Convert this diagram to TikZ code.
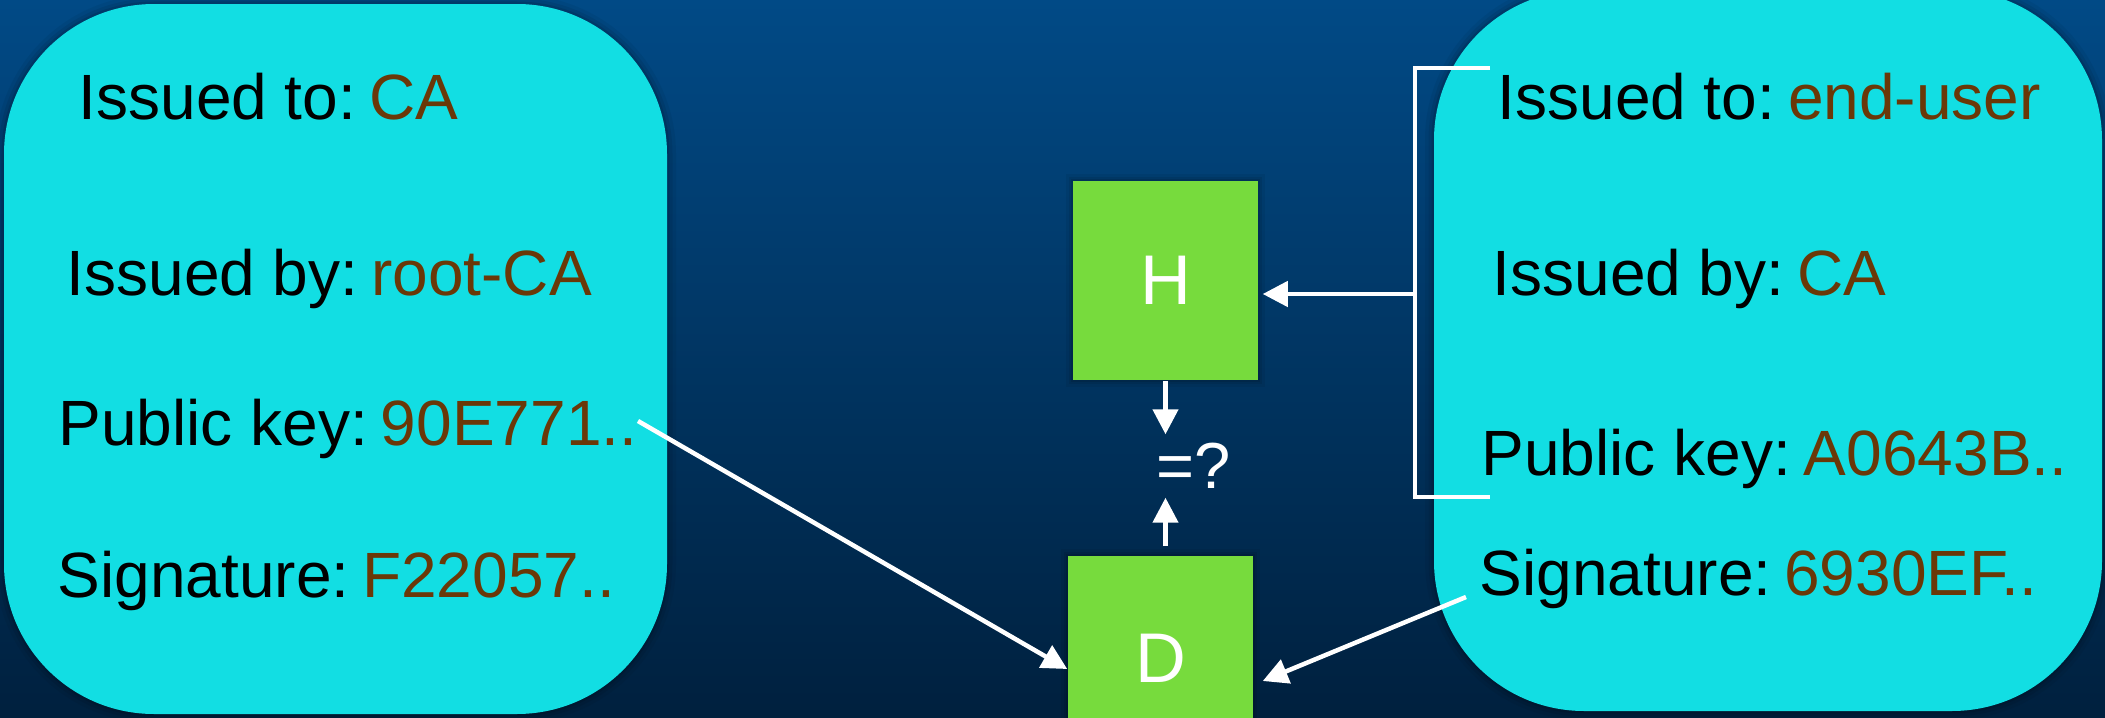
\documentclass[tikz,border=0pt]{standalone}
\usepackage{fontspec}
\setmainfont{Liberation Sans}
\usetikzlibrary{arrows.meta,calc}
\definecolor{bgtop}{RGB}{1,74,134}
\definecolor{bgbot}{RGB}{0,32,62}
\definecolor{cardc}{RGB}{18,222,227}
\definecolor{boxg}{RGB}{119,219,61}
\definecolor{valc}{RGB}{106,56,8}
\tikzset{
  card/.style={fill=cardc, rounded corners=1.5cm},
  row/.style={anchor=base west, inner sep=0, font=\fontsize{18.2}{20}\selectfont, text=black},
  gbox/.style={fill=boxg, minimum width=1.85cm, inner sep=0, text=white, font=\fontsize{20}{24}\selectfont},
  wline/.style={draw=white, line width=0.045cm},
  arr/.style={wline, -{Triangle[length=0.25cm,width=0.25cm]}},
}
\newcommand{\val}[1]{\hspace{0.2em}\textcolor{valc}{#1}}
\begin{document}
\begin{tikzpicture}[x=0.01cm,y=-0.01cm]
\useasboundingbox (0,0) rectangle (2105,718);
\clip (0,0) rectangle (2105,718);
\shade[top color=bgtop, bottom color=bgbot] (0,0) rectangle (2105,718);
% card shadows
\foreach \w/\o in {0.18cm/0.05, 0.11cm/0.07, 0.05cm/0.10}{
  \draw[black, opacity=\o, line width=\w, rounded corners=1.5cm] (4,4) rectangle (667,714);
  \draw[black, opacity=\o, line width=\w, rounded corners=1.5cm] (1434,-10) rectangle (2102,711);
}
\fill[card] (4,4) rectangle (667,714);
\fill[card] (1434,-10) rectangle (2102,711);
% rows
\node[row] (l1) at (78,119) {Issued to:\val{CA}};
\node[row] (l2) at (66,295) {Issued by:\val{root-CA}};
\node[row] (l3) at (58,445) {Public key:\val{90E771..}};
\node[row] (l4) at (57,597) {Signature:\val{F22057..}};
\node[row] (r1) at (1497,119) {Issued to:\val{end-user}};
\node[row] (r2) at (1492,295) {Issued by:\val{CA}};
\node[row] (r3) at (1481,475) {Public key:\val{A0643B..}};
\node[row] (r4) at (1479,595) {Signature:\val{6930EF..}};
% box shadows
\foreach \w/\o in {0.14cm/0.06, 0.08cm/0.08, 0.04cm/0.10}{
  \draw[black, opacity=\o, line width=\w] (1073,181) rectangle (1258,380);
  \draw[black, opacity=\o, line width=\w] (1068,556) rectangle (1253,760);
}
\node[gbox, minimum height=1.99cm] (H) at (1165.5,280.5) {H};
\node[gbox, minimum height=2.04cm] (D) at (1160.5,658) {D};
\node[text=white, font=\fontsize{18.5}{22}\selectfont, inner sep=0, minimum height=0.62cm] (eq) at (1194,466) {=?};
% bracket
\coordinate (bt) at (1490,68);
\coordinate (btl) at (1415,68);
\coordinate (bbl) at (1415,497);
\coordinate (bb) at (1490,497);
\coordinate (bm) at (1415,294);
\draw[wline] (bt) -- (btl) -- (bbl) -- (bb);
\draw[arr, shorten >=0.04cm] (bm) -- (bm -| H.east);
% compare arrows
\draw[arr] (H.south) -- (H.south |- eq.north);
\draw[arr] ([yshift=0.09cm]H.south |- D.north) -- (H.south |- eq.south);
% key and signature lines
\coordinate (pk) at (638,421);
\coordinate (sg) at (1466,597);
\draw[arr] (pk) -- ($(D.west)+(0,11)$);
\draw[arr] (sg) -- ($(D.east)+(9,23)$);
\end{tikzpicture}
\end{document}
